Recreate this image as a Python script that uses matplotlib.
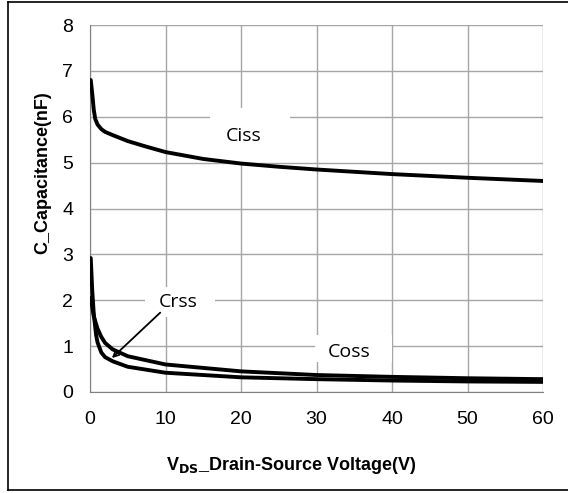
import matplotlib.pyplot as plt
from matplotlib.lines import Line2D
from matplotlib.patches import Rectangle

# Capacitance curves (V in volts, C in nF)
v_ciss = [0.1, 0.3, 0.5, 0.7, 1, 1.5, 2, 3, 5, 7, 10, 15, 20, 25, 30, 40, 50, 60]
ciss = [6.8, 6.5, 6.15, 5.95, 5.83, 5.73, 5.67, 5.6, 5.47, 5.37, 5.23, 5.08, 4.98, 4.91, 4.85, 4.75, 4.67, 4.6]

v_coss = [0.1, 0.3, 0.5, 1, 1.5, 2, 3, 5, 10, 20, 30, 40, 50, 60]
coss = [2.05, 1.85, 1.65, 1.38, 1.2, 1.07, 0.93, 0.78, 0.6, 0.45, 0.37, 0.33, 0.3, 0.28]

v_crss = [0.1, 0.3, 0.5, 0.8, 1, 1.5, 2, 3, 5, 10, 20, 30, 40, 50, 60]
crss = [2.92, 2.2, 1.7, 1.25, 1.08, 0.86, 0.76, 0.67, 0.55, 0.42, 0.32, 0.28, 0.25, 0.23, 0.22]

fig = plt.figure(figsize=(5.68, 4.93), dpi=100)
# outer frame (right edge is cropped off in the original)
for xs, ys in [([8, 8], [2, 490]), ([8, 568], [2, 2]), ([8, 568], [490, 490])]:
    fig.add_artist(Line2D([x / 568 for x in xs], [1 - y / 493 for y in ys],
                          color='black', lw=1.2, transform=fig.transFigure))

ax = fig.add_axes([90 / 568, 101 / 493, 453 / 568, 367 / 493])
for v, c in [(v_ciss, ciss), (v_coss, coss), (v_crss, crss)]:
    ax.plot(v, c, color='black', lw=2.8, solid_capstyle='round', solid_joinstyle='round', zorder=3)

ax.set_xlim(0, 60)
ax.set_ylim(0, 8)
ax.set_xticks(range(0, 61, 10))
ax.set_yticks(range(0, 9))
ax.grid(True, color='#a6a6a6', lw=1)
ax.set_axisbelow(True)
for s in ['top', 'right']:
    ax.spines[s].set_visible(False)
for s in ['left', 'bottom']:
    ax.spines[s].set_color('#808080')
ax.tick_params(length=0, labelsize=14, labelcolor='black')
ax.tick_params(axis='x', pad=14)
ax.tick_params(axis='y', pad=12)
for lbl in ax.get_xticklabels() + ax.get_yticklabels():
    lbl.set_family('Liberation Sans')

# white label boxes that cut the gridlines, as in the original
for x0, x1, y0, y1 in [(15.9, 26.5, 5.01, 6.19), (29.8, 40.0, 0.65, 1.24), (7.3, 16.6, 1.63, 2.29)]:
    ax.add_patch(Rectangle((x0, y0), x1 - x0, y1 - y0, facecolor='white', edgecolor='none', zorder=1.5))

ax.text(20.3, 5.57, 'Ciss', fontsize=14, family='Open Sans', ha='center', va='center', zorder=4)
ax.text(34.3, 0.87, 'Coss', fontsize=14, family='Open Sans', ha='center', va='center', zorder=4)
ax.text(11.7, 1.96, 'Crss', fontsize=14, family='Open Sans', ha='center', va='center', zorder=4)
ax.annotate('', xy=(2.9, 0.74), xytext=(9.3, 1.73), zorder=4,
            arrowprops=dict(arrowstyle='->', color='black', lw=1.3, shrinkA=0, shrinkB=0))

fig.text(291 / 568, 1 - 466 / 493, r'V$_{\mathbf{DS}}$_Drain-Source Voltage(V)', fontsize=13,
         fontweight='bold', family='Liberation Sans', ha='center', va='center')
fig.text(43 / 568, 1 - 173 / 493, 'C_Capacitance(nF)', fontsize=13, fontweight='bold',
         family='Liberation Sans', rotation=90, ha='center', va='center')

fig.savefig('out.png', dpi=100)
